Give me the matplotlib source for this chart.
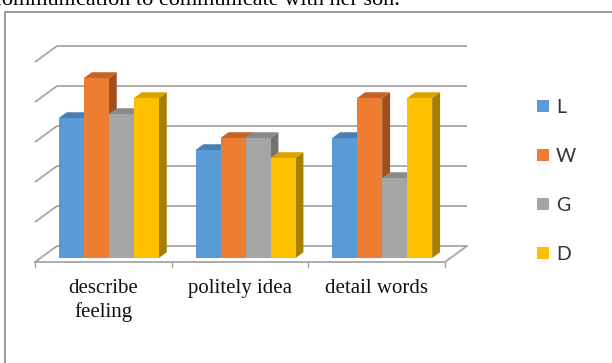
import matplotlib.pyplot as plt
from matplotlib.patches import Polygon, Rectangle

categories = ['describe\nfeeling', 'politely idea', 'detail words']
series = ['L', 'W', 'G', 'D']
L = [3.5, 2.7, 3.0]
W = [4.5, 3.0, 4.0]
G = [3.6, 3.0, 2.0]
D = [4.0, 2.5, 4.0]
values = [L, W, G, D]

front = ['#5B9BD5', '#ED7D31', '#A5A5A5', '#FFC000']
top = ['#4A7FB5', '#C3652A', '#8A8A8A', '#D9A300']
side = ['#3F6E9C', '#A0501E', '#737373', '#A67F00']

W_PX, H_PX = 612, 363
fig = plt.figure(figsize=(W_PX / 100, H_PX / 100), dpi=100)

# axes: x 0..3 -> px 35..445, y 0 -> px 262, 40 px per unit
ax = fig.add_axes([35 / W_PX, 1 / H_PX, 410 / W_PX, 360 / H_PX])
ax.set_xlim(0, 3)
ax.set_ylim(-2.5, 6.5)
ax.axis('off')

ddx = 22 / 410 * 3   # full floor depth, in data units
ddy = 16 / 40
grid_c = '#A6A6A6'
lw = 1.3

# back wall gridlines with left diagonals
for v in range(6):
    ax.plot([0, ddx, 3 + ddx], [v, v + ddy, v + ddy], color=grid_c, lw=lw,
            clip_on=False, zorder=1, solid_capstyle='butt')
# floor front edge and right edge
ax.plot([0, 3, 3 + ddx], [0, 0, ddy], color=grid_c, lw=lw, clip_on=False, zorder=1)
for i in range(4):
    ax.plot([i, i], [0, -0.12], color=grid_c, lw=1.0, clip_on=False, zorder=1)

# bars
bw = 25 / 410 * 3
d0, bd = 0.25, 0.36
z = 2
for c in range(len(categories)):
    x0 = c + 0.5 - 2 * bw + d0 * ddx
    b = d0 * ddy
    for s in range(len(series)):
        v = values[s][c]
        x = x0 + s * bw
        ox, oy = bd * ddx, bd * ddy
        ax.add_patch(Polygon([(x + bw, b), (x + bw, b + v), (x + bw + ox, b + v + oy),
                              (x + bw + ox, b + oy)], closed=True, fc=side[s],
                             ec='none', zorder=z, clip_on=False))
        ax.add_patch(Polygon([(x, b + v), (x + bw, b + v), (x + bw + ox, b + v + oy),
                              (x + ox, b + v + oy)], closed=True, fc=top[s],
                             ec='none', zorder=z, clip_on=False))
        ax.bar(x, v, width=bw, bottom=b, align='edge', color=front[s],
               zorder=z + 0.5, clip_on=False)
        z += 1

for c, lab in enumerate(categories):
    ax.text(c + 0.5, -0.42, lab, ha='center', va='top', fontsize=15,
            family='Liberation Serif', linespacing=1.3, color='#111111')

# legend
for s, name in enumerate(series):
    cy = 106.3 + s * 48.9
    fig.patches.append(Rectangle((537 / W_PX, 1 - (cy + 6) / H_PX), 12 / W_PX, 12 / H_PX,
                                 transform=fig.transFigure, fc=front[s], ec='none'))
    fig.text(556 / W_PX, 1 - (cy + 7) / H_PX, name, ha='left', va='baseline',
             fontsize=14, family='Lato', color='#333333')

# chart border
fig.patches.append(Rectangle((5 / W_PX, -0.1), 1.2, 1 - 12 / H_PX + 0.1,
                             transform=fig.transFigure, fc='none', ec='#8C8C8C', lw=1.2))

# caption from surrounding page
fig.text(-8 / W_PX, 1 - 5 / H_PX, 'communication to communicate with her son.', ha='left',
         va='baseline', fontsize=16, family='Liberation Serif', color='black')

fig.savefig('out.png', dpi=100)
